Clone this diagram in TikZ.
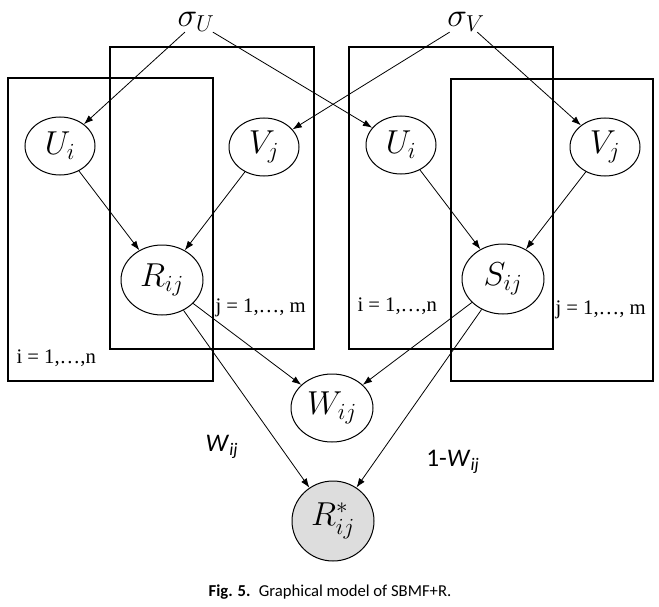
\documentclass[tikz,border=0pt]{standalone}
\usepackage{amsmath}
\usepackage{fontspec}
\usepackage{tikz}
\usetikzlibrary{shapes.geometric,arrows.meta}
\newfontfamily\capfont{Carlito}
\setmainfont{Liberation Serif}
\tikzset{every picture/.style={line width=0.75pt}}
\tikzset{
  var/.style={draw, ellipse, minimum width=70*0.75pt, minimum height=58*0.75pt, inner sep=0pt, font=\fontsize{26}{30}\selectfont},
  bigvar/.style={var, minimum width=82*0.75pt, minimum height=70*0.75pt},
  hyper/.style={inner sep=0pt, font=\fontsize{23}{26}\selectfont},
  plate/.style={draw, line width=0.8pt},
  platelbl/.style={anchor=west, inner sep=0.75pt, font=\fontsize{15.5}{18}\selectfont},
  edge/.style={-{Latex[length=7pt,width=5pt]}, line width=0.6pt}
}
\begin{document}
\begin{tikzpicture}[x=0.75pt,y=0.75pt,yscale=-1,xscale=1]
\useasboundingbox (0,0) rectangle (659,606);
% plates
\draw [plate] (8,78) rectangle (213,381);
\draw [plate] (110,47) rectangle (314,349);
\draw [plate] (349,47) rectangle (553,349);
\draw [plate] (451,79) rectangle (653,381);
\draw (15,358) node [platelbl] {i = 1,\ldots,n};
\draw (214,308) node [platelbl] {j = 1,\ldots, m};
\draw (356,306) node [platelbl] {i = 1,\ldots,n};
\draw (554,310) node [platelbl] {j = 1,\ldots, m};
% hyperparameters
\node (sU) at (196,22) [hyper] {$\sigma_U$};
\node (sV) at (466,22) [hyper] {$\sigma_V$};
% variables
\node (Ul) at (60,146) [var] {$U_i$};
\node (Vl) at (264,147) [var] {$V_j$};
\node (R) at (162,280) [bigvar] {$R_{ij}$};
\node (Ur) at (401,145) [var] {$U_i$};
\node (Vr) at (605,147) [var] {$V_j$};
\node (S) at (503,279) [bigvar] {$S_{ij}$};
\node (W) at (332,408) [bigvar, minimum height=68*0.75pt] {$W_{ij}$};
\node (Rs) at (333,521) [bigvar, minimum height=80*0.75pt, fill={rgb,255:red,221;green,221;blue,221}] {$R^{*}_{ij}$};
% edges
\draw [edge] (sU) -- (Ul);
\draw [edge] (sU) -- (Ur);
\draw [edge] (sV) -- (Vl);
\draw [edge] (sV) -- (Vr);
\draw [edge] (Ul) -- (R);
\draw [edge] (Vl) -- (R);
\draw [edge] (Ur) -- (S);
\draw [edge] (Vr) -- (S);
\draw [edge] (R) -- (W);
\draw [edge] (S) -- (W);
\draw [edge] (R) -- (Rs);
\draw [edge] (S) -- (Rs);
% weights
\draw (222,447) node [font=\capfont\fontsize{19}{22}\selectfont] {\textit{W}\textsubscript{\textit{ij}}};
\draw (453,462) node [font=\capfont\fontsize{19}{22}\selectfont] {1-\textit{W}\textsubscript{\textit{ij}}};
% caption
\draw (330,592) node [font=\capfont\fontsize{12.5}{14}\selectfont] {\textbf{Fig. 5.}\enspace Graphical model of SBMF+R.};
\end{tikzpicture}
\end{document}
